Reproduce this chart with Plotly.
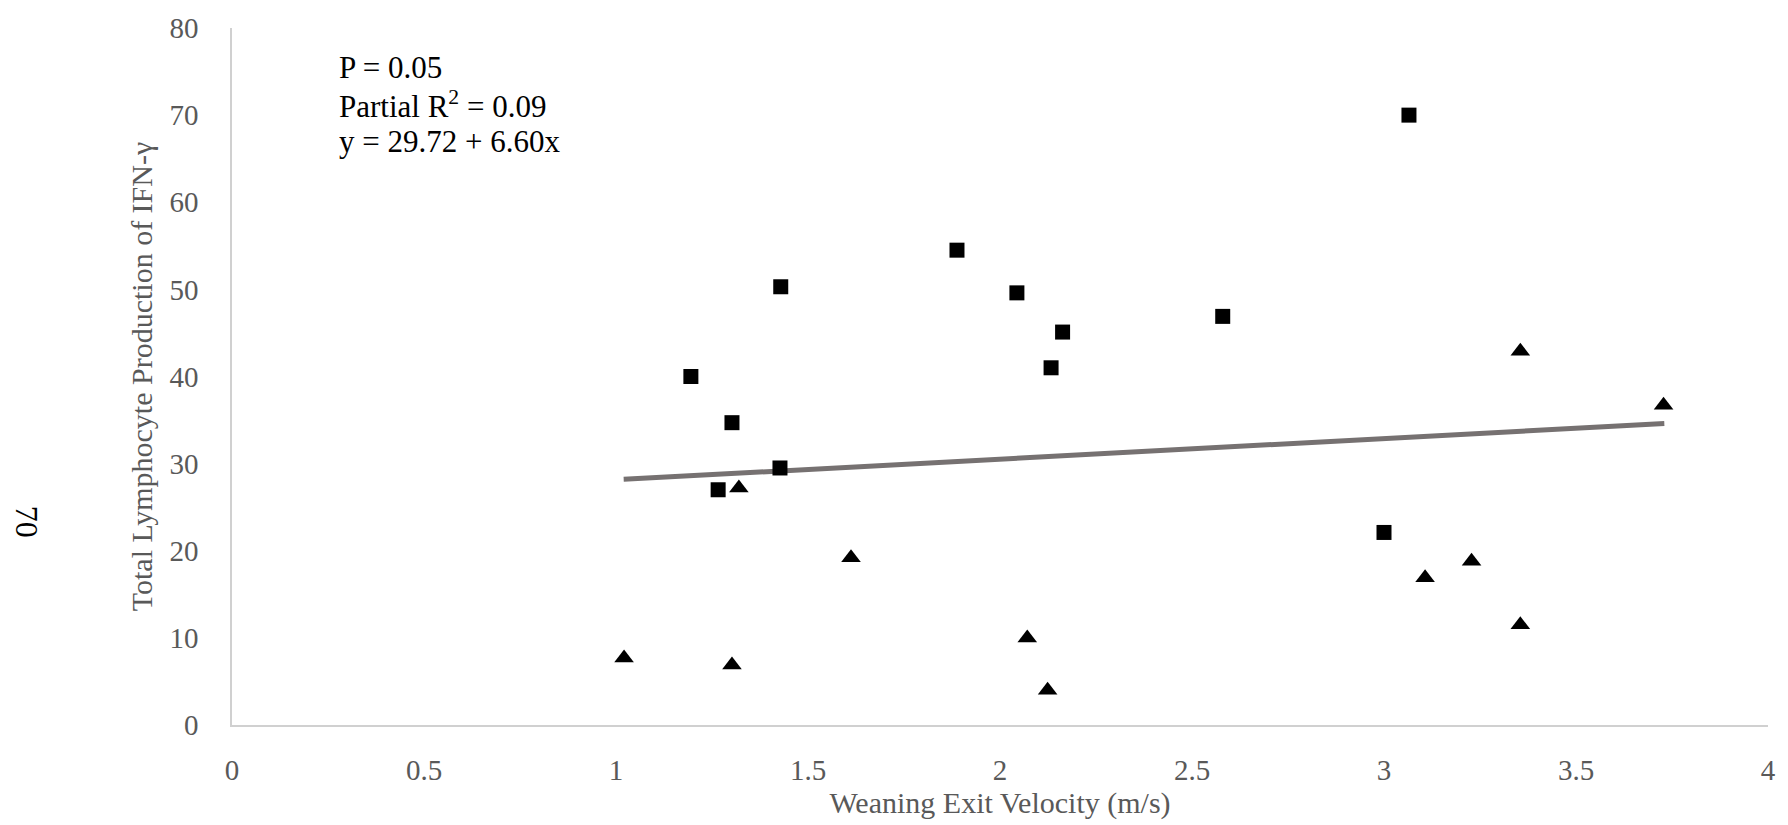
import plotly.graph_objects as go

# Data
square_x = [1.195, 1.302, 1.266, 1.427, 1.429, 1.888, 2.044, 2.163, 2.133, 2.580, 3.065, 3.000]
square_y = [40.0, 34.7, 27.0, 29.5, 50.3, 54.5, 49.6, 45.1, 41.0, 46.9, 70.0, 22.1]

triangle_x = [1.021, 1.302, 1.320, 1.612, 2.071, 2.124, 3.107, 3.228, 3.355, 3.355, 3.728]
triangle_y = [7.7, 6.9, 27.2, 19.2, 10.0, 4.0, 16.9, 18.8, 11.5, 42.9, 36.7]

trend_x = [1.02, 3.73]
trend_y = [28.2, 34.6]

x_ticks = [0, 0.5, 1, 1.5, 2, 2.5, 3, 3.5, 4]
x_tick_labels = ["0", "0.5", "1", "1.5", "2", "2.5", "3", "3.5", "4"]
y_ticks = [0, 10, 20, 30, 40, 50, 60, 70, 80]

stats_lines = ["P = 0.05", "Partial R<sup>2</sup> = 0.09", "y = 29.72 + 6.60x"]

W, H = 1788, 825
L, R, T, B = 232, 14, 23, 100
PW, PH = W - L - R, H - T - B

def px_to_paper_x(px):
    return (px - L) / PW

def px_to_paper_y(py):
    return (H - B - py) / PH

FONT = "Liberation Serif"
GREY = "#595959"

fig = go.Figure()

fig.add_trace(go.Scatter(
    x=trend_x, y=trend_y, mode="lines",
    line=dict(color="#767171", width=5),
    showlegend=False, hoverinfo="skip"))

fig.add_trace(go.Scatter(
    x=square_x, y=square_y, mode="markers",
    marker=dict(symbol="square", size=15, color="black"),
    showlegend=False))

fig.add_trace(go.Scatter(
    x=triangle_x, y=triangle_y, mode="markers",
    marker=dict(symbol="triangle-up", size=17, color="black"),
    showlegend=False))

fig.update_layout(
    width=W, height=H,
    margin=dict(l=L, r=R, t=T, b=B, pad=0),
    paper_bgcolor="white", plot_bgcolor="white",
    font=dict(family=FONT, size=29, color=GREY),
    showlegend=False,
)

fig.update_xaxes(
    range=[0, 4], tickvals=x_ticks, ticktext=x_tick_labels,
    showgrid=False, zeroline=False, showline=True,
    linecolor="#d0d0d0", linewidth=1.5, ticks="",
    tickfont=dict(family=FONT, size=29, color=GREY),
    ticklabelstandoff=18,
    title=dict(text="Weaning Exit Velocity (m/s)",
               font=dict(family=FONT, size=30, color=GREY), standoff=4),
)
fig.update_yaxes(
    range=[0, 80], tickvals=y_ticks,
    showgrid=False, zeroline=False, showline=True,
    linecolor="#d0d0d0", linewidth=1.5, ticks="",
    tickfont=dict(family=FONT, size=29, color=GREY),
    ticklabelstandoff=26,
    title=dict(text="Total Lymphocyte Production of IFN-γ",
               font=dict(family=FONT, size=30, color=GREY), standoff=8),
)

line_centers = [63, 100, 137]
for txt, cy in zip(stats_lines, line_centers):
    fig.add_annotation(
        text=txt, xref="paper", yref="paper",
        x=px_to_paper_x(337), y=px_to_paper_y(cy),
        xanchor="left", yanchor="middle", showarrow=False,
        font=dict(family=FONT, size=31, color="black"))

# Page number printed sideways at left margin
fig.add_annotation(
    text="70", xref="paper", yref="paper",
    x=px_to_paper_x(26), y=px_to_paper_y(520),
    xanchor="center", yanchor="middle", showarrow=False,
    textangle=90,
    font=dict(family=FONT, size=32, color="black"))

fig.write_html("out.html")
